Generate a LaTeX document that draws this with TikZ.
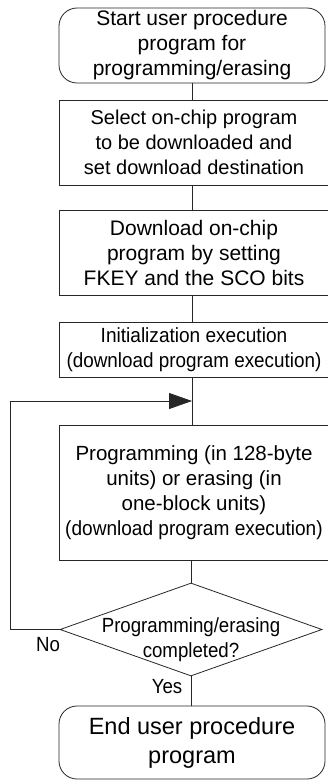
\documentclass[tikz,border=0pt]{standalone}
\usepackage{fontspec}
\usepackage{graphicx}
\setmainfont{Liberation Sans}
\usetikzlibrary{shapes.geometric,arrows.meta}
\newcommand{\narrowline}[2][0.93]{\scalebox{#1}[1]{#2}}
\begin{document}
\begin{tikzpicture}[x=1pt,y=-1pt,
 every node/.style={font=\fontsize{20.5}{25}\selectfont},
 box/.style={draw=black!85,line width=.8pt,minimum width=270pt,inner sep=0pt,align=center},
 term/.style={box,rounded corners=18pt,minimum width=266pt},
 link/.style={draw=black!85,line width=.8pt}]
 \useasboundingbox (0,0) rectangle (327,781);
 \node[term,minimum height=75pt,font=\fontsize{21}{25}\selectfont] (start) at (192,45.5)
   {Start user procedure\\program for\\programming/erasing};
 \node[box,minimum height=85pt,font=\fontsize{20}{25}\selectfont] (sel) at (194,142.5)
   {Select on-chip program\\to be downloaded and\\set download destination};
 \node[box,minimum height=85pt,font=\fontsize{21}{25}\selectfont] (dl) at (194,252.5)
   {Download on-chip\\program by setting\\FKEY and the SCO bits};
 \node[box,minimum height=55pt] (init) at (194,349.5)
   {\narrowline[0.93]{Initialization execution}\\\narrowline[0.92]{(download program execution)}};
 \node[box,minimum height=135pt] (prog) at (194,492.5)
   {Programming (in 128-byte\\units) or erasing (in\\one-block units)\\\narrowline{(download program execution)}};
 \node[diamond,draw=black!85,line width=.8pt,inner sep=0pt,
   minimum width=262pt,minimum height=93pt] (chk) at (191,629.5) {};
 \node[align=center] (chktxt) at (191,640)
   {\narrowline[0.91]{Programming/erasing}\\\narrowline[0.91]{completed?}};
 \node[term,minimum height=73pt,font=\fontsize{23.5}{29}\selectfont] (end) at (192,742.5)
   {End user procedure\\program};
 \coordinate (merge) at (192,401);
 \node (no) at (48,645) {\narrowline[0.91]{No}};
 \node (yes) at (167,687) {\narrowline[0.91]{Yes}};
 % main flow
 \draw[link] (start) -- (start |- sel.north);
 \draw[link] (sel.south -| start) -- (start |- dl.north);
 \draw[link] (dl.south -| start) -- (start |- init.north);
 \draw[link] (init.south -| start) -- (start |- prog.north);
 \draw[link] (prog.south -| chk) -- (chk.north);
 \draw[link] (chk.south) -- (chk.south |- end.north);
 % retry loop
 \draw[link,-{Triangle[length=23pt,width=16pt]}] (chk.west) -- ++(-49,0) |- (merge);
\end{tikzpicture}
\end{document}
